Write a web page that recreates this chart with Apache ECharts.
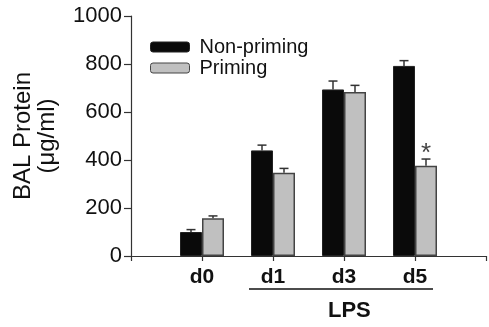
<!DOCTYPE html>
<html><head><meta charset="utf-8">
<script src="https://cdn.jsdelivr.net/npm/echarts@6/dist/echarts.min.js"></script>
<style>html,body{margin:0;padding:0;background:#fff}#c{width:489px;height:327px}</style>
</head><body><div id="c"></div>
<script>
const categories = ['', 'd0', 'd1', 'd3', 'd5', ''];
const nonPriming = [null, 100, 440, 694, 792, null];
const nonPrimingErr = [null, 10, 22, 35, 22, null];
const priming = [null, 157, 347, 683, 376, null];
const primingErr = [null, 10, 18, 28, 28, null];
const significance = ['', '', '', '', '*', ''];
const yTicks = [0, 200, 400, 600, 800, 1000];

const font = '"Liberation Sans", Arial, sans-serif';
const chart = echarts.init(document.getElementById('c'));

function errSeries(vals, errs, offset, marks) {
  return {
    type: 'custom',
    z: 5,
    data: vals.map((v, i) => [i, v, errs[i]]),
    renderItem: function (params, api) {
      const v = api.value(1);
      if (v == null || isNaN(v)) return;
      const e = api.value(2);
      const base = api.coord([api.value(0), v]);
      const top = api.coord([api.value(0), v + e]);
      const x = base[0] + offset;
      const children = [
        {type: 'line', shape: {x1: x, y1: base[1], x2: x, y2: top[1]}, style: {stroke: '#333', lineWidth: 1.5}},
        {type: 'line', shape: {x1: x - 4.5, y1: top[1], x2: x + 4.5, y2: top[1]}, style: {stroke: '#333', lineWidth: 1.5}}
      ];
      const m = marks ? marks[params.dataIndex] : '';
      if (m) {
        children.push({type: 'text', style: {text: m, x: x, y: top[1] - 5, align: 'center', verticalAlign: 'middle', font: '26px ' + font, fill: '#444'}});
      }
      return {type: 'group', children: children};
    }
  };
}

chart.setOption({
  animation: false,
  grid: {left: 131, top: 16, bottom: 71, right: -2, containLabel: false},
  legend: {
    orient: 'vertical', left: 150, top: 37, padding: 0,
    itemWidth: 39, itemHeight: 10, itemGap: 1,
    textStyle: {fontFamily: font, fontSize: 20, lineHeight: 20, color: '#111', padding: [0, 0, 0, 5]},
    data: [
      {name: 'Non-priming', itemStyle: {color: '#0a0a0a', borderColor: '#222', borderWidth: 1}},
      {name: 'Priming', itemStyle: {color: '#c0c0c0', borderColor: '#444', borderWidth: 1}}
    ]
  },
  xAxis: {
    type: 'category', data: categories, boundaryGap: false,
    axisLine: {lineStyle: {color: '#333', width: 1.2}},
    axisTick: {show: true, length: 5, inside: false, lineStyle: {color: '#333', width: 1.2}},
    axisLabel: {fontFamily: font, fontSize: 21, fontWeight: 'bold', color: '#111', margin: 11, interval: 0}
  },
  yAxis: {
    type: 'value', min: 0, max: 1000, interval: 200,
    name: 'BAL Protein\n(μg/ml)', nameLocation: 'middle', nameGap: 72, nameRotate: 90,
    nameTextStyle: {fontFamily: font, fontSize: 24, color: '#111', lineHeight: 24},
    axisLine: {show: true, lineStyle: {color: '#333', width: 1.2}},
    axisTick: {show: true, length: 7, lineStyle: {color: '#333', width: 1.2}},
    axisLabel: {fontFamily: font, fontSize: 22, color: '#111', margin: 9,
      formatter: v => yTicks.includes(v) ? String(v) : ''},
    splitLine: {show: false}
  },
  series: [
    {name: 'Non-priming', type: 'bar', data: nonPriming, barWidth: 22, barGap: '0%',
      itemStyle: {color: '#0a0a0a', borderColor: '#222', borderWidth: 1}},
    {name: 'Priming', type: 'bar', data: priming, barWidth: 22, barGap: '0%',
      itemStyle: {color: '#c0c0c0', borderColor: '#444', borderWidth: 1.5}},
    errSeries(nonPriming, nonPrimingErr, -11, null),
    errSeries(priming, primingErr, 11, significance)
  ],
  graphic: [
    {type: 'line', shape: {x1: 249, y1: 289, x2: 433, y2: 289}, style: {stroke: '#111', lineWidth: 1.5}},
    {type: 'text', left: 328, top: 300, style: {text: 'LPS', font: 'bold 22px ' + font, fill: '#111'}}
  ]
});
</script></body></html>
